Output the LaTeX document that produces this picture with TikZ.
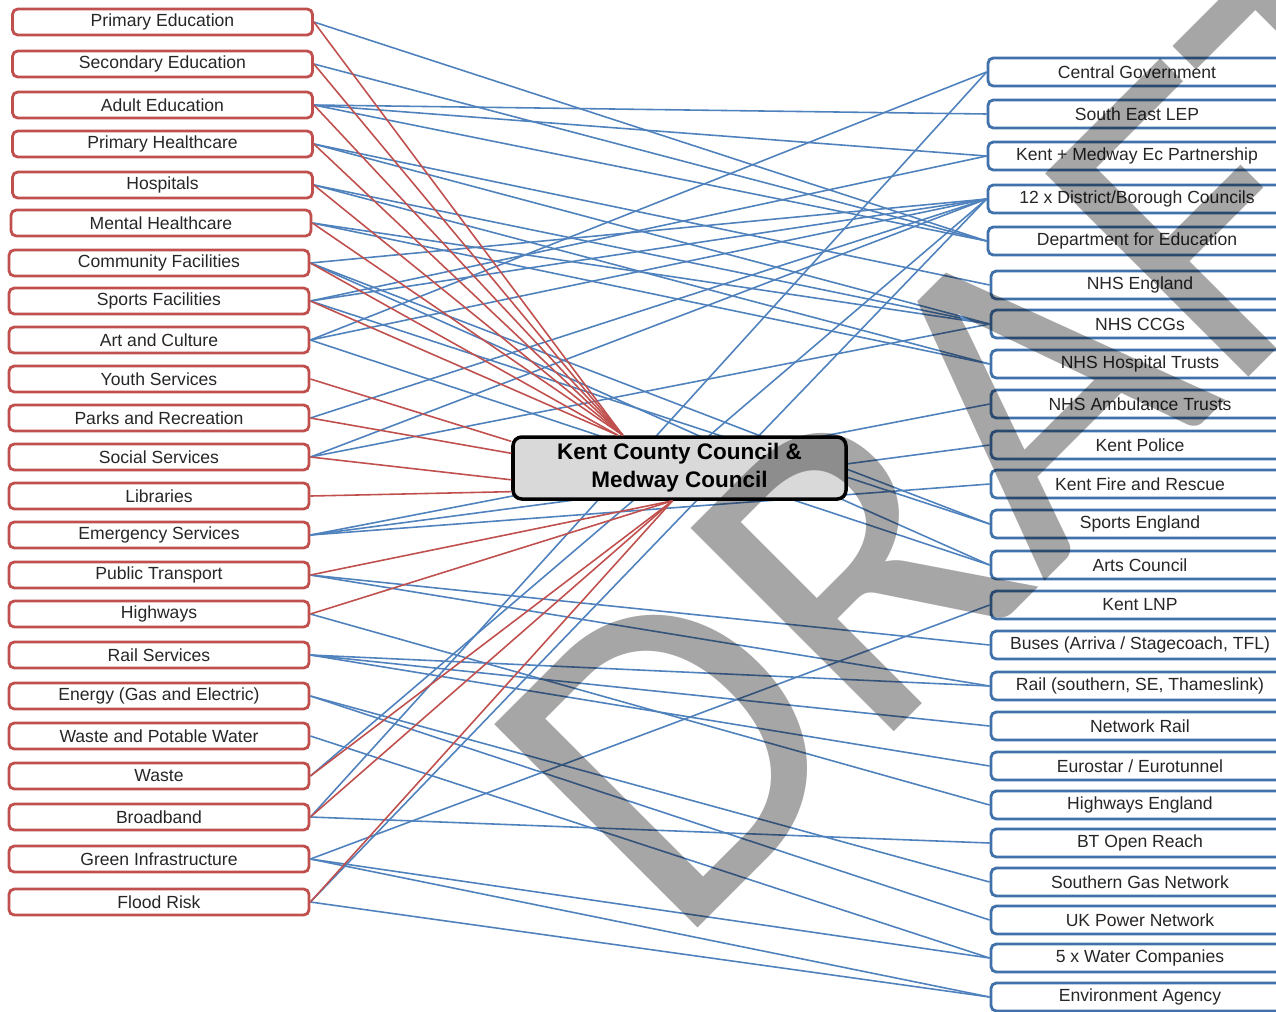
\documentclass[tikz,border=0pt]{standalone}
\usepackage{fontspec}
\setmainfont{Liberation Sans}
\newfontfamily\markfont{Carlito}
\definecolor{boxred}{RGB}{192,80,77}
\definecolor{boxblue}{RGB}{65,113,170}
\definecolor{linkred}{RGB}{192,80,77}
\definecolor{linkblue}{RGB}{79,129,189}
\tikzset{
  leftbox/.style={draw=boxred, line width=1.6pt, rounded corners=3pt, minimum width=6cm, minimum height=0.52cm, inner sep=0pt, text=black!85, font=\fontsize{10pt}{12pt}\selectfont},
  rightbox/.style={draw=boxblue, line width=1.6pt, rounded corners=3pt, minimum width=5.96cm, minimum height=0.56cm, inner sep=0pt, text=black!85, font=\fontsize{10pt}{12pt}\selectfont},
  hub/.style={draw=black, fill=black!15, line width=2pt, rounded corners=5pt, minimum width=6.66cm, minimum height=1.24cm, align=center, font=\bfseries\fontsize{12.8pt}{15.9pt}\selectfont},
  redlink/.style={draw=linkred, line width=0.9pt},
  bluelink/.style={draw=linkblue, line width=0.9pt}
}
\begin{document}
\begin{tikzpicture}
    \useasboundingbox (0,0) rectangle (25.52,-20.22);

    % Services (left column)
    \node[leftbox] (pri) at (3.25,-0.44) {Primary Education};
    \node[leftbox] (sec) at (3.25,-1.28) {Secondary Education};
    \node[leftbox] (adu) at (3.25,-2.10) {Adult Education};
    \node[leftbox] (phc) at (3.25,-2.88) {Primary Healthcare};
    \node[leftbox] (hos) at (3.25,-3.70) {Hospitals};
    \node[leftbox] (mhc) at (3.22,-4.46) {Mental Healthcare};
    \node[leftbox] (com) at (3.18,-5.26) {Community Facilities};
    \node[leftbox] (spo) at (3.18,-6.02) {Sports Facilities};
    \node[leftbox] (art) at (3.18,-6.80) {Art and Culture};
    \node[leftbox] (you) at (3.18,-7.58) {Youth Services};
    \node[leftbox] (par) at (3.18,-8.36) {Parks and Recreation};
    \node[leftbox] (soc) at (3.18,-9.14) {Social Services};
    \node[leftbox] (lib) at (3.18,-9.92) {Libraries};
    \node[leftbox] (eme) at (3.18,-10.70) {Emergency Services};
    \node[leftbox] (pub) at (3.18,-11.50) {Public Transport};
    \node[leftbox] (hwy) at (3.18,-12.28) {Highways};
    \node[leftbox] (rai) at (3.18,-13.10) {Rail Services};
    \node[leftbox] (ene) at (3.18,-13.92) {Energy (Gas and Electric)};
    \node[leftbox] (wpw) at (3.18,-14.72) {Waste and Potable Water};
    \node[leftbox] (was) at (3.18,-15.52) {Waste};
    \node[leftbox] (bro) at (3.18,-16.34) {Broadband};
    \node[leftbox] (gre) at (3.18,-17.18) {Green Infrastructure};
    \node[leftbox] (flo) at (3.18,-18.04) {Flood Risk};

    % Partners (right column)
    \node[rightbox] (cgov) at (22.74,-1.44) {Central Government};
    \node[rightbox] (selep) at (22.74,-2.28) {South East LEP};
    \node[rightbox] (kmep) at (22.74,-3.12) {Kent + Medway Ec Partnership};
    \node[rightbox] (dbc) at (22.74,-3.98) {12 x District/Borough Councils};
    \node[rightbox] (dfe) at (22.74,-4.82) {Department for Education};
    \node[rightbox] (nhse) at (22.80,-5.70) {NHS England};
    \node[rightbox] (ccg) at (22.80,-6.48) {NHS CCGs};
    \node[rightbox] (nhst) at (22.80,-7.28) {NHS Hospital Trusts};
    \node[rightbox] (amb) at (22.80,-8.08) {NHS Ambulance Trusts};
    \node[rightbox] (pol) at (22.80,-8.90) {Kent Police};
    \node[rightbox] (fire) at (22.80,-9.68) {Kent Fire and Rescue};
    \node[rightbox] (spe) at (22.80,-10.48) {Sports England};
    \node[rightbox] (arts) at (22.80,-11.30) {Arts Council};
    \node[rightbox] (lnp) at (22.80,-12.10) {Kent LNP};
    \node[rightbox] (bus) at (22.80,-12.90) {Buses (Arriva / Stagecoach, TFL)};
    \node[rightbox] (rail) at (22.80,-13.72) {Rail (southern, SE, Thameslink)};
    \node[rightbox] (nrail) at (22.80,-14.52) {Network Rail};
    \node[rightbox] (euro) at (22.80,-15.32) {Eurostar / Eurotunnel};
    \node[rightbox] (hwe) at (22.80,-16.10) {Highways England};
    \node[rightbox] (bt) at (22.80,-16.86) {BT Open Reach};
    \node[rightbox] (sgn) at (22.80,-17.64) {Southern Gas Network};
    \node[rightbox] (ukpn) at (22.80,-18.40) {UK Power Network};
    \node[rightbox] (water) at (22.80,-19.16) {5 x Water Companies};
    \node[rightbox] (ea) at (22.80,-19.94) {Environment Agency};

    % Service to partner links
    \draw[bluelink] (pri.east) -- (dfe.west);
    \draw[bluelink] (sec.east) -- (dfe.west);
    \draw[bluelink] (adu.east) -- (selep.west);
    \draw[bluelink] (adu.east) -- (kmep.west);
    \draw[bluelink] (adu.east) -- (dfe.west);
    \draw[bluelink] (phc.east) -- (nhse.west);
    \draw[bluelink] (phc.east) -- (ccg.west);
    \draw[bluelink] (hos.east) -- (ccg.west);
    \draw[bluelink] (hos.east) -- (nhst.west);
    \draw[bluelink] (mhc.east) -- (ccg.west);
    \draw[bluelink] (mhc.east) -- (nhst.west);
    \draw[bluelink] (com.east) -- (dbc.west);
    \draw[bluelink] (com.east) -- (spe.west);
    \draw[bluelink] (com.east) -- (arts.west);
    \draw[bluelink] (spo.east) -- (kmep.west);
    \draw[bluelink] (spo.east) -- (dbc.west);
    \draw[bluelink] (spo.east) -- (spe.west);
    \draw[bluelink] (art.east) -- (cgov.west);
    \draw[bluelink] (art.east) -- (dbc.west);
    \draw[bluelink] (art.east) -- (arts.west);
    \draw[bluelink] (par.east) -- (dbc.west);
    \draw[bluelink] (soc.east) -- (dbc.west);
    \draw[bluelink] (soc.east) -- (ccg.west);
    \draw[bluelink] (eme.east) -- (amb.west);
    \draw[bluelink] (eme.east) -- (pol.west);
    \draw[bluelink] (eme.east) -- (fire.west);
    \draw[bluelink] (pub.east) -- (bus.west);
    \draw[bluelink] (pub.east) -- (rail.west);
    \draw[bluelink] (hwy.east) -- (hwe.west);
    \draw[bluelink] (rai.east) -- (rail.west);
    \draw[bluelink] (rai.east) -- (nrail.west);
    \draw[bluelink] (rai.east) -- (euro.west);
    \draw[bluelink] (ene.east) -- (sgn.west);
    \draw[bluelink] (ene.east) -- (ukpn.west);
    \draw[bluelink] (wpw.east) -- (water.west);
    \draw[bluelink] (was.east) -- (dbc.west);
    \draw[bluelink] (bro.east) -- (cgov.west);
    \draw[bluelink] (bro.east) -- (bt.west);
    \draw[bluelink] (gre.east) -- (lnp.west);
    \draw[bluelink] (gre.east) -- (water.west);
    \draw[bluelink] (gre.east) -- (ea.west);
    \draw[bluelink] (flo.east) -- (dbc.west);
    \draw[bluelink] (flo.east) -- (ea.west);

    % Council in the middle
    \node[hub] (kcc) at (13.59,-9.36) {Kent County Council \&\\Medway Council};

    % Service to council links
    \draw[redlink] (pri.east) -- (kcc.150);
    \draw[redlink] (sec.east) -- (kcc.150);
    \draw[redlink] (adu.east) -- (kcc.150);
    \draw[redlink] (phc.east) -- (kcc.150);
    \draw[redlink] (hos.east) -- (kcc.150);
    \draw[redlink] (mhc.east) -- (kcc.150);
    \draw[redlink] (com.east) -- (kcc.152);
    \draw[redlink] (spo.east) -- (kcc.152);
    \draw[redlink] (you.east) -- (kcc.171);
    \draw[redlink] (par.east) -- (kcc.175);
    \draw[redlink] (soc.east) -- (kcc.184);
    \draw[redlink] (lib.east) -- (kcc.188);
    \draw[redlink] (pub.east) -- (kcc.258);
    \draw[redlink] (hwy.east) -- (kcc.258);
    \draw[redlink] (was.east) -- (kcc.258);
    \draw[redlink] (bro.east) -- (kcc.258);
    \draw[redlink] (flo.east) -- (kcc.258);

    % Watermark
    \begin{scope}[blend mode=multiply]
        \node[rotate=45, anchor=base, text=black!35, inner sep=0pt, font=\markfont\fontsize{255pt}{255pt}\selectfont] (draft) at (22.04,-10.48) {DRAFT};
    \end{scope}
\end{tikzpicture}
\end{document}
